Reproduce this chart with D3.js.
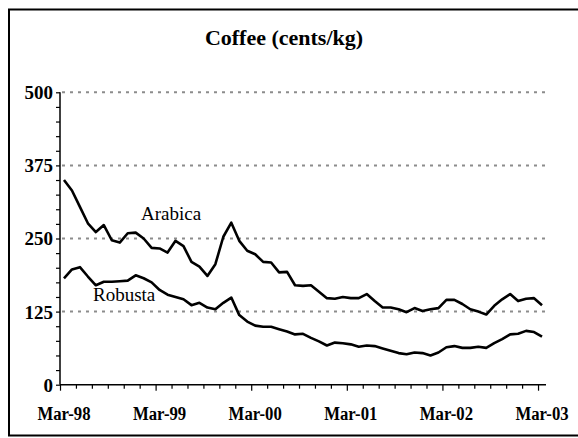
<!doctype html>
<html>
<head>
<meta charset="UTF-8">
<title>Coffee</title>
<script src="https://d3js.org/d3.v7.min.js"></script>
<style>
  body { margin: 0; background: #fff; }
  svg text { font-family: "Liberation Serif", "Times New Roman", serif; fill: #000; }
</style>
</head>
<body>
<svg id="chart" width="578" height="438"></svg>
<script>
// monthly prices, Mar-98 .. Mar-03 (cents/kg)
var arabica = [350,332,304,276,261,273,247,243,259,260,250,234,233,226,246,237,210,202,186,206,
               253,277,246,229,223,210,209,192,193,170,169,170,159,148,147,150,148,148,155,143,
               132,132,129,124,131,126,129,131,145,145,138,129,125,120,135,146,155,143,147,148,136];
var robusta = [182,197,201,185,170,176,176,177,178,187,182,175,162,154,150,146,136,140,132,129,
               140,149,119,108,101,99,99,95,91,86,87,80,74,67,72,71,69,65,67,66,
               62,58,54,52,55,54,50,55,64,66,63,63,65,63,71,78,86,87,92,90,82];
var months = d3.timeMonth.range(new Date(1998, 2, 1), new Date(2003, 3, 1));
var tickLabels = ["Mar-98", "Mar-99", "Mar-00", "Mar-01", "Mar-02", "Mar-03"];
var yTicks = [0, 125, 250, 375, 500];

var svg = d3.select("#chart");

// chart border
svg.append("rect")
    .attr("x", 9).attr("y", 9.5)
    .attr("width", 580).attr("height", 426)
    .attr("fill", "none").attr("stroke", "#000").attr("stroke-width", 2);

var x = d3.scaleLinear().domain([0, months.length]).range([60, 546]);
var y = d3.scaleLinear().domain([0, 500]).range([384.7, 92.3]);

// gridlines
svg.selectAll(".grid")
    .data(yTicks.filter(function (d) { return d > 0; }))
    .enter().append("line")
    .attr("x1", 62).attr("x2", 546)
    .attr("y1", function (d) { return y(d); })
    .attr("y2", function (d) { return y(d); })
    .attr("stroke", "#8c8c8c").attr("stroke-width", 2)
    .attr("stroke-dasharray", "3,5");

// y axis
var yAxis = d3.axisLeft(y)
    .tickValues(d3.range(0, 501, 25))
    .tickSize(4)
    .tickFormat(function (d) { return yTicks.indexOf(d) >= 0 ? d : ""; });
var gy = svg.append("g").attr("transform", "translate(60,0)").call(yAxis);
gy.select(".domain").attr("d", "M0," + y(500) + "V" + y(0));
gy.selectAll("line").attr("stroke", "#000").attr("stroke-width", 1.2);
gy.selectAll("text")
    .attr("x", -7)
    .style("font-size", "19px").style("font-weight", "bold")
    .attr("dy", "0.34em");

// x axis
var xAxis = d3.axisBottom(x)
    .tickValues(d3.range(0, months.length, 2))
    .tickSize(4)
    .tickFormat("");
var gx = svg.append("g").attr("transform", "translate(0," + y(0) + ")").call(xAxis);
gx.select(".domain").attr("d", "M60,0H" + x(months.length));
gx.selectAll("line")
    .attr("y2", function (d) { return d % 12 === 0 ? 6 : 4; })
    .attr("stroke", "#000").attr("stroke-width", 1.2);
gx.selectAll("path").attr("stroke", "#000").attr("stroke-width", 1.5);
gy.selectAll("path").attr("stroke", "#000").attr("stroke-width", 1.5);

svg.selectAll(".xlab")
    .data(tickLabels)
    .enter().append("text")
    .attr("transform", function (d, i) {
        return "translate(" + x(i * 12 + 0.5) + ",420) scale(0.88,1)";
    })
    .attr("text-anchor", "middle")
    .style("font-size", "19px").style("font-weight", "bold")
    .text(function (d) { return d; });

// series lines
var line = d3.line()
    .x(function (d, i) { return x(i + 0.5); })
    .y(function (d) { return y(d); });

[arabica, robusta].forEach(function (s) {
    svg.append("path")
        .datum(s)
        .attr("d", line)
        .attr("fill", "none")
        .attr("stroke", "#000")
        .attr("stroke-width", 2.6)
        .attr("stroke-linejoin", "round");
});

// series labels
svg.append("text").attr("x", 141).attr("y", 220)
    .style("font-size", "19px").text("Arabica");
svg.append("text").attr("x", 93).attr("y", 301)
    .style("font-size", "19px").text("Robusta");

// title
svg.append("text")
    .attr("x", 284).attr("y", 45)
    .attr("text-anchor", "middle")
    .style("font-size", "22px").style("font-weight", "bold")
    .text("Coffee (cents/kg)");
</script>
</body>
</html>
